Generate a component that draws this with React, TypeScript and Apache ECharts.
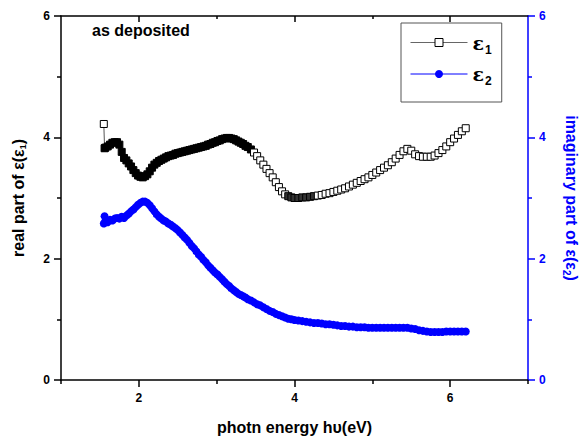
import React, { useEffect, useRef } from "react";
import * as echarts from "echarts";

// photon energy (eV)
const energy = [
  1.55, 1.56, 1.57, 1.6, 1.63, 1.66, 1.69, 1.72, 1.75, 1.78, 1.81, 1.84, 1.87, 1.9, 1.93, 1.96, 1.99,
  2.02, 2.05, 2.08, 2.11, 2.14, 2.17, 2.2, 2.23, 2.26, 2.29, 2.32, 2.35, 2.38, 2.41, 2.44, 2.47, 2.5,
  2.53, 2.56, 2.59, 2.62, 2.65, 2.68, 2.71, 2.74, 2.77, 2.8, 2.83, 2.86, 2.89, 2.92, 2.95, 2.98,
  3.01, 3.04, 3.07, 3.1, 3.13, 3.16, 3.19, 3.22, 3.25, 3.28, 3.31, 3.34, 3.37, 3.4,
  3.44, 3.48, 3.52, 3.56, 3.6, 3.64, 3.68, 3.72, 3.76, 3.8, 3.84, 3.88, 3.92, 3.96, 4.0,
  4.05, 4.1, 4.15, 4.2, 4.25, 4.3, 4.35, 4.4, 4.45, 4.5, 4.55, 4.6, 4.65, 4.7, 4.75, 4.8, 4.85,
  4.9, 4.95, 5.0, 5.05, 5.1, 5.15, 5.2, 5.25, 5.3, 5.35, 5.4, 5.45, 5.5, 5.55, 5.6, 5.65, 5.7,
  5.75, 5.8, 5.85, 5.9, 5.95, 6.0, 6.05, 6.1, 6.15, 6.2,
];

// real part ε1
const eps1 = [
  4.22, 3.82, 3.83, 3.85, 3.88, 3.91, 3.92, 3.92, 3.88, 3.76, 3.66, 3.62, 3.57, 3.52, 3.46, 3.41, 3.37,
  3.35, 3.34, 3.36, 3.39, 3.44, 3.5, 3.55, 3.58, 3.61, 3.63, 3.65, 3.67, 3.69, 3.7, 3.71, 3.73, 3.74,
  3.75, 3.76, 3.77, 3.78, 3.79, 3.8, 3.81, 3.82, 3.83, 3.84, 3.85, 3.86, 3.88, 3.89, 3.91, 3.92,
  3.94, 3.95, 3.97, 3.98, 3.99, 3.99, 3.98, 3.97, 3.95, 3.93, 3.91, 3.89, 3.86, 3.84,
  3.8, 3.75, 3.69, 3.62, 3.55, 3.48, 3.41, 3.34, 3.26, 3.18, 3.11, 3.06, 3.03, 3.01, 3.0,
  3.0, 3.01, 3.01, 3.02, 3.03, 3.04, 3.05, 3.07, 3.08, 3.1, 3.12, 3.14, 3.16, 3.19, 3.22, 3.25, 3.28,
  3.31, 3.34, 3.38, 3.42, 3.46, 3.5, 3.54, 3.59, 3.65, 3.71, 3.77, 3.81, 3.78, 3.72, 3.69, 3.68, 3.68,
  3.68, 3.7, 3.74, 3.79, 3.85, 3.92, 3.98, 4.04, 4.1, 4.15,
];

// imaginary part ε2
const eps2 = [
  2.58, 2.7, 2.62, 2.6, 2.64, 2.63, 2.66, 2.67, 2.66, 2.69, 2.67, 2.71, 2.74, 2.78, 2.81, 2.85, 2.89,
  2.92, 2.94, 2.94, 2.92, 2.88, 2.83, 2.78, 2.73, 2.69, 2.66, 2.63, 2.61, 2.58, 2.56, 2.53, 2.5, 2.47,
  2.43, 2.39, 2.35, 2.31, 2.26, 2.21, 2.17, 2.12, 2.07, 2.03, 1.98, 1.94, 1.89, 1.85, 1.81, 1.77,
  1.74, 1.7, 1.66, 1.62, 1.58, 1.55, 1.51, 1.48, 1.45, 1.42, 1.4, 1.38, 1.36, 1.33,
  1.31, 1.28, 1.25, 1.23, 1.2, 1.17, 1.14, 1.12, 1.09, 1.07, 1.05, 1.03, 1.01, 1.0, 0.99,
  0.98, 0.97, 0.96, 0.95, 0.94, 0.94, 0.93, 0.92, 0.92, 0.91, 0.9, 0.89, 0.89, 0.88, 0.88, 0.87, 0.87,
  0.87, 0.86, 0.86, 0.86, 0.86, 0.86, 0.86, 0.86, 0.86, 0.86, 0.86, 0.86, 0.85, 0.84, 0.82, 0.81, 0.8,
  0.79, 0.79, 0.79, 0.79, 0.8, 0.8, 0.8, 0.8, 0.8, 0.8,
];

const xMajorTicks = [2, 4, 6];
const xMinorTicks = [1, 3, 5, 7];
const xTopMinorTicks = [3, 5];

const FONT = "Liberation Sans, Arial, sans-serif";
const BLUE = "#0000ff";

export default function App() {
  const ref = useRef<HTMLDivElement>(null);
  useEffect(() => {
    if (!ref.current) return;
    const chart = echarts.init(ref.current, null, { renderer: "svg" });
    const grid = { left: 61, right: 51, top: 16, bottom: 59, containLabel: false, outerBoundsMode: "none" };
    const baseX = {
      type: "value" as const,
      min: 1,
      max: 7,
      interval: 1,
      splitLine: { show: false },
    };
    const option: any = {
      animation: false,
      backgroundColor: "#fff",
      textStyle: { fontFamily: FONT },
      grid,
      legend: {
        left: 401,
        top: 23,
        orient: "vertical",
        itemWidth: 57,
        itemHeight: 10,
        itemGap: 9,
        padding: [10, 10, 15, 9],
        borderColor: "#555",
        borderWidth: 1,
        data: [
          {
            name: "ε1",
            itemStyle: { color: "#fff", borderColor: "#000", borderWidth: 1 },
            lineStyle: { color: "#666", width: 1 },
          },
          {
            name: "ε2",
            itemStyle: { color: BLUE, borderWidth: 0 },
            lineStyle: { color: BLUE, width: 1 },
          },
        ],
        formatter: (n: string) => (n === "ε1" ? "{e|ε}{s|1}" : "{e|ε}{s|2}"),
        textStyle: {
          rich: {
            e: { fontSize: 19, fontWeight: "bold", color: "#000", lineHeight: 20, fontFamily: "DejaVu Serif" },
            s: { fontSize: 12, fontWeight: "bold", color: "#000", padding: [14, 0, 0, 1] },
          },
        },
      },
      graphic: [
        {
          type: "text",
          x: 92,
          y: 30,
          style: {
            text: "as deposited",
            font: `bold 16px ${FONT}`,
            fill: "#000",
            textVerticalAlign: "middle",
          },
        },
      ],
      xAxis: [
        {
          ...baseX,
          position: "bottom",
          name: "photn energy hυ(eV)",
          nameLocation: "middle",
          nameGap: 39,
          nameTextStyle: { fontSize: 16, fontWeight: "bold", color: "#000", fontFamily: FONT },
          axisLine: { onZero: false, lineStyle: { color: "#000", width: 1.5 } },
          axisTick: { customValues: xMajorTicks, length: 7, lineStyle: { color: "#000", width: 1.5 } },
          axisLabel: { customValues: xMajorTicks, margin: 12, fontSize: 12, fontWeight: "bold", color: "#000" },
        },
        {
          ...baseX,
          position: "top",
          axisLine: { onZero: false, lineStyle: { color: "#000", width: 1.5 } },
          axisTick: { inside: true, customValues: xMajorTicks, length: 6, lineStyle: { color: "#000", width: 1.5 } },
          axisLabel: { show: false },
        },
        {
          ...baseX,
          position: "bottom",
          axisLine: { show: false, onZero: false },
          axisTick: { customValues: xMinorTicks, length: 4, lineStyle: { color: "#000", width: 1.5 } },
          axisLabel: { show: false },
        },
        {
          ...baseX,
          position: "top",
          axisLine: { show: false, onZero: false },
          axisTick: { inside: true, customValues: xTopMinorTicks, length: 3, lineStyle: { color: "#000", width: 1.5 } },
          axisLabel: { show: false },
        },
      ],
      yAxis: [
        {
          type: "value",
          position: "left",
          min: 0,
          max: 6,
          interval: 2,
          splitLine: { show: false },
          name: "{a|real part of ε(ε}{s|1}{a|)}",
          nameLocation: "middle",
          nameRotate: 90,
          nameGap: 34,
          nameTextStyle: {
            rich: {
              a: { fontSize: 16, fontWeight: "bold", color: "#000", fontFamily: FONT },
              s: { fontSize: 9, fontWeight: "bold", color: "#000", fontFamily: FONT, padding: [9, 0, 0, 0] },
            },
          },
          axisLine: { show: true, onZero: false, lineStyle: { color: "#000", width: 1.5 } },
          axisTick: { show: true, length: 7, lineStyle: { color: "#000", width: 1.5 } },
          minorTick: { show: true, splitNumber: 2, length: 4, lineStyle: { color: "#000", width: 1.5 } },
          axisLabel: { margin: 11, fontSize: 12, fontWeight: "bold", color: "#000" },
        },
        {
          type: "value",
          position: "right",
          min: 0,
          max: 6,
          interval: 2,
          splitLine: { show: false },
          name: "{a|imaginary part of ε(ε}{s|2}{a|)}",
          nameLocation: "middle",
          nameRotate: -90,
          nameGap: 33,
          nameTextStyle: {
            rich: {
              a: { fontSize: 16, fontWeight: "bold", color: BLUE, fontFamily: FONT },
              s: { fontSize: 10, fontWeight: "bold", color: BLUE, fontFamily: FONT, padding: [11, 0, 0, 0] },
            },
          },
          axisLine: { show: true, onZero: false, lineStyle: { color: BLUE, width: 1.5 } },
          axisTick: { show: true, length: 7, lineStyle: { color: BLUE, width: 1.5 } },
          minorTick: { show: true, splitNumber: 2, length: 4, lineStyle: { color: BLUE, width: 1.5 } },
          axisLabel: { margin: 11, fontSize: 12, fontWeight: "bold", color: BLUE },
        },
      ],
      series: [
        {
          name: "ε1",
          type: "line",
          xAxisIndex: 0,
          yAxisIndex: 0,
          data: energy.map((e, i) => [e, eps1[i]]),
          symbol: "rect",
          symbolSize: 7,
          showAllSymbol: true,
          lineStyle: { color: "#555", width: 1 },
          itemStyle: {
            color: (p: any) => {
              const e = p.data[0];
              if (e > 1.555 && e < 3.45) return "#000";
              if (e >= 3.9 && e < 4.3) return "#333";
              return "#fff";
            },
            borderColor: "#000",
            borderWidth: 1,
          },
          z: 3,
        },
        {
          name: "ε2",
          type: "line",
          xAxisIndex: 0,
          yAxisIndex: 1,
          data: energy.map((e, i) => [e, eps2[i]]),
          symbol: "circle",
          symbolSize: 8,
          showAllSymbol: true,
          lineStyle: { color: BLUE, width: 2 },
          itemStyle: { color: BLUE, borderColor: BLUE, borderWidth: 0 },
          z: 2,
        },
      ],
    };
    chart.setOption(option);
    return () => chart.dispose();
  }, []);
  return (
    <div
      ref={ref}
      style={{ position: "fixed", left: 0, top: 0, width: 579, height: 439 }}
    />
  );
}
